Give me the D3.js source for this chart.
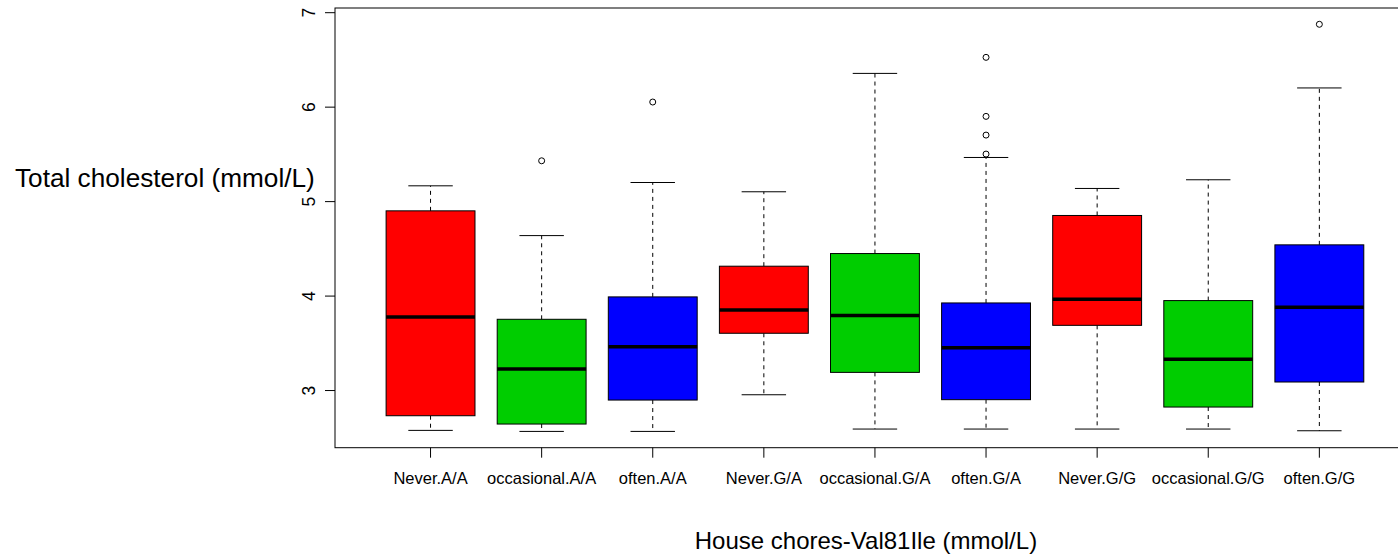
<!DOCTYPE html>
<html>
<head>
<meta charset="utf-8">
<script src="https://cdn.jsdelivr.net/npm/d3@7"></script>
<style>
  html, body { margin: 0; padding: 0; background: #fff; }
  svg { display: block; }
  text { font-family: "Liberation Sans", Arial, Helvetica, sans-serif; fill: #000; }
</style>
</head>
<body>
<svg id="chart" width="1398" height="556"></svg>
<script>
// ---- data ----
const categories = ["Never.A/A", "occasional.A/A", "often.A/A",
                    "Never.G/A", "occasional.G/A", "often.G/A",
                    "Never.G/G", "occasional.G/G", "often.G/G"];
const lowerWhisker = [2.573, 2.562, 2.562, 2.950, 2.587, 2.587, 2.587, 2.587, 2.569];
const q1           = [2.728, 2.640, 2.894, 3.601, 3.187, 2.898, 3.685, 2.820, 3.085];
const median       = [3.774, 3.223, 3.459, 3.848, 3.788, 3.449, 3.961, 3.325, 3.876];
const q3           = [4.897, 3.749, 3.986, 4.311, 4.445, 3.922, 4.848, 3.947, 4.537];
const upperWhisker = [5.162, 4.635, 5.197, 5.099, 6.352, 5.462, 5.134, 5.226, 6.198];
const outliers     = [[], [5.427], [6.049], [], [], [6.522, 5.897, 5.699, 5.498], [], [], [6.872]];
const boxColors    = ["#FF0000", "#00CD00", "#0000FF",
                      "#FF0000", "#00CD00", "#0000FF",
                      "#FF0000", "#00CD00", "#0000FF"];
const yTicks = [3, 4, 5, 6, 7];
const xTitle = "House chores-Val81Ile (mmol/L)";
const yTitle = "Total cholesterol (mmol/L)";

// ---- layout ----
const svg = d3.select("#chart");
const plotLeft = 335, plotTop = 8, plotBottom = 447.7;
const unitX = 111.1;
const plotRight = plotLeft + unitX * 9 * 1.08;  // R's 4% extension of 0.5..9.5

const allVals = lowerWhisker.concat(upperWhisker, outliers.flat());
const vMin = d3.min(allVals), vMax = d3.max(allVals);
const ext = (vMax - vMin) * 0.04;

const x = d3.scaleBand()
  .domain(categories)
  .range([plotLeft + unitX * 0.36, plotRight - unitX * 0.36])
  .padding(0);
const y = d3.scaleLinear()
  .domain([vMin - ext, vMax + ext])
  .range([plotBottom, plotTop]);

const bw = x.bandwidth();
const boxW = bw * 0.8;
const capW = boxW * 0.5;
const cx = i => x(categories[i]) + bw / 2;

const g = svg.append("g");

categories.forEach((c, i) => {
  const xc = cx(i);
  // whiskers (dashed)
  g.append("line").attr("x1", xc).attr("x2", xc)
    .attr("y1", y(q3[i])).attr("y2", y(upperWhisker[i]))
    .attr("stroke", "#000").attr("stroke-width", 1).attr("stroke-dasharray", "4,4");
  g.append("line").attr("x1", xc).attr("x2", xc)
    .attr("y1", y(q1[i])).attr("y2", y(lowerWhisker[i]))
    .attr("stroke", "#000").attr("stroke-width", 1).attr("stroke-dasharray", "4,4");
  // caps
  [upperWhisker[i], lowerWhisker[i]].forEach(v => {
    g.append("line").attr("x1", xc - capW / 2).attr("x2", xc + capW / 2)
      .attr("y1", y(v)).attr("y2", y(v))
      .attr("stroke", "#000").attr("stroke-width", 1);
  });
  // box
  g.append("rect")
    .attr("x", xc - boxW / 2).attr("width", boxW)
    .attr("y", y(q3[i])).attr("height", y(q1[i]) - y(q3[i]))
    .attr("fill", boxColors[i]).attr("stroke", "#000").attr("stroke-width", 1);
  // median
  g.append("line").attr("x1", xc - boxW / 2).attr("x2", xc + boxW / 2)
    .attr("y1", y(median[i])).attr("y2", y(median[i]))
    .attr("stroke", "#000").attr("stroke-width", 3.5);
  // outliers
  outliers[i].forEach(v => {
    g.append("circle").attr("cx", xc).attr("cy", y(v)).attr("r", 3)
      .attr("fill", "none").attr("stroke", "#000").attr("stroke-width", 1);
  });
});

// frame
svg.append("rect")
  .attr("x", plotLeft).attr("y", plotTop)
  .attr("width", plotRight - plotLeft).attr("height", plotBottom - plotTop)
  .attr("fill", "none").attr("stroke", "#000").attr("stroke-width", 1);

// y axis
const yAxis = svg.append("g")
  .attr("transform", `translate(${plotLeft},0)`)
  .call(d3.axisLeft(y).tickValues(yTicks).tickSize(10).tickFormat(d3.format("d")));
yAxis.select(".domain").remove();
yAxis.selectAll(".tick line").attr("stroke", "#000");
yAxis.selectAll(".tick text")
  .attr("x", null).attr("dy", null)
  .attr("text-anchor", "middle")
  .attr("transform", "translate(-20,0) rotate(-90)")
  .style("font-size", "17.5px")
  .style("font-family", "Liberation Sans, Arial, sans-serif");

// x axis
const xAxis = svg.append("g")
  .attr("transform", `translate(0,${plotBottom})`)
  .call(d3.axisBottom(x).tickSize(10));
xAxis.select(".domain").remove();
xAxis.selectAll(".tick line").attr("stroke", "#000");
xAxis.selectAll(".tick text")
  .attr("y", 36.3).attr("dy", null)
  .style("font-size", "16.5px")
  .style("font-family", "Liberation Sans, Arial, sans-serif");

// titles
svg.append("text")
  .attr("x", (plotLeft + plotRight) / 2 - 9).attr("y", 549)
  .attr("text-anchor", "middle")
  .style("font-size", "24px")
  .text(xTitle);
svg.append("text")
  .attr("x", 15).attr("y", 187)
  .attr("text-anchor", "start")
  .style("font-size", "26.2px")
  .text(yTitle);
</script>
</body>
</html>
